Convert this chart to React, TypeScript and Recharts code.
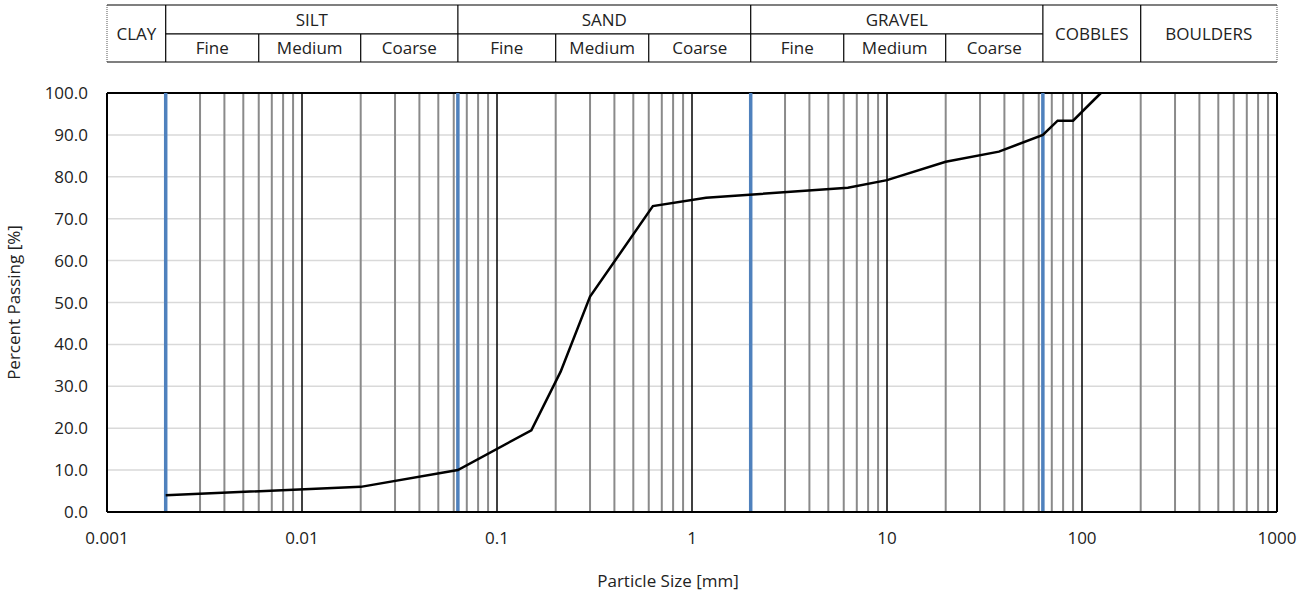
import { LineChart, Line, XAxis, YAxis, CartesianGrid, ReferenceLine, ReferenceDot } from 'recharts'

// grading curve
const sizes = [0.002, 0.02, 0.063, 0.15, 0.212, 0.3, 0.63, 1.18, 6.3, 10, 20, 37.5, 63, 75, 90, 125]
const passing = [4.0, 6.0, 10.0, 19.5, 33.5, 51.4, 73.0, 75.0, 77.4, 79.2, 83.6, 86.0, 90.0, 93.4, 93.4, 100.0]

const xTicks = [0.001, 0.01, 0.1, 1, 10, 100, 1000]
const yTicks = [0, 10, 20, 30, 40, 50, 60, 70, 80, 90, 100]
const minorSteps = [2, 3, 4, 5, 6, 7, 8, 9]

// soil classification limits [mm]
const classLimits = [0.002, 0.063, 2, 63]
const mainLimits = [0.002, 0.063, 2, 63, 200]
const subLimits = [0.006, 0.02, 0.2, 0.6, 6, 20]
const fullCells = [
  { name: 'CLAY', from: 0.001, to: 0.002 },
  { name: 'COBBLES', from: 63, to: 200 },
  { name: 'BOULDERS', from: 200, to: 1000 },
]
const groupCells = [
  { name: 'SILT', from: 0.002, to: 0.063 },
  { name: 'SAND', from: 0.063, to: 2 },
  { name: 'GRAVEL', from: 2, to: 63 },
]
const subNames = ['Fine', 'Medium', 'Coarse']
const subEdges = [
  [0.002, 0.006, 0.02, 0.063],
  [0.063, 0.2, 0.6, 2],
  [2, 6, 20, 63],
]

const data = sizes.map((s, i) => ({ size: s, passing: passing[i] }))
const minorLines = xTicks.slice(0, -1).flatMap((d) => minorSteps.map((k) => +(k * d).toPrecision(3)))

// header band sits above the plot, in y-axis units
const HEAD_TOP = 121
const HEAD_MID = 114.1
const HEAD_BOT = 107.4

const FONT = "'Open Sans', sans-serif"
const TEXT = '#222'
const gmean = (a: number, b: number) => Math.sqrt(a * b)

const cellLabel = (value: string) => ({ value, position: 'center' as const, fill: TEXT, fontSize: 17 })

export default function App() {
  return (
    <div style={{ position: 'absolute', left: 0, top: 0, width: 1307, height: 591, background: '#fff', fontFamily: FONT }}>
      <LineChart width={1307} height={591} data={data} margin={{ top: 93, right: 30, bottom: 0, left: 0 }}>
        <CartesianGrid vertical={false} stroke="#d9d9d9" strokeWidth={1.5} />
        <XAxis
          dataKey="size"
          type="number"
          scale="log"
          domain={[0.001, 1000]}
          ticks={xTicks}
          allowDataOverflow
          height={79}
          tickLine={false}
          tickSize={0}
          tickMargin={20}
          axisLine={{ stroke: '#000', strokeWidth: 2 }}
          tick={{ fill: TEXT, fontSize: 17 }}
          tickFormatter={(v: number) => String(v)}
          label={{ value: 'Particle Size [mm]', position: 'insideBottom', offset: 4, dx: -24, fill: TEXT, fontSize: 17 }}
        />
        <YAxis
          type="number"
          domain={[0, 100]}
          ticks={yTicks}
          width={107}
          tickLine={false}
          tickSize={0}
          tickMargin={19}
          axisLine={{ stroke: '#000', strokeWidth: 2 }}
          tick={{ fill: TEXT, fontSize: 17 }}
          tickFormatter={(v: number) => v.toFixed(1)}
          label={{ value: 'Percent Passing [%]', angle: -90, position: 'insideLeft', offset: 14, fill: TEXT, fontSize: 17, style: { textAnchor: 'middle' } }}
        />
        {minorLines.map((v) => (
          <ReferenceLine key={'m' + v} x={v} stroke="#8a8a8a" strokeWidth={2} />
        ))}
        {xTicks.slice(1, -1).map((v) => (
          <ReferenceLine key={'d' + v} x={v} stroke="#000" strokeWidth={1.5} />
        ))}
        <ReferenceLine x={1000} stroke="#000" strokeWidth={2} />
        <ReferenceLine y={100} stroke="#000" strokeWidth={2} />
        {classLimits.map((v) => (
          <ReferenceLine key={'c' + v} x={v} stroke="#4f81bd" strokeWidth={3.5} />
        ))}
        <Line dataKey="passing" type="linear" stroke="#000" strokeWidth={2.5} dot={false} isAnimationActive={false} />

        {/* classification header */}
        <ReferenceLine ifOverflow="visible" segment={[{ x: 0.001, y: HEAD_TOP }, { x: 1000, y: HEAD_TOP }]} stroke="#000" strokeWidth={1.2} />
        <ReferenceLine ifOverflow="visible" segment={[{ x: 0.001, y: HEAD_BOT }, { x: 1000, y: HEAD_BOT }]} stroke="#000" strokeWidth={1.2} />
        <ReferenceLine ifOverflow="visible" segment={[{ x: 0.002, y: HEAD_MID }, { x: 63, y: HEAD_MID }]} stroke="#000" strokeWidth={1.2} />
        <ReferenceLine ifOverflow="visible" segment={[{ x: 0.001, y: HEAD_BOT }, { x: 0.001, y: HEAD_TOP }]} stroke="#555" strokeWidth={1} strokeDasharray="1 1" />
        <ReferenceLine ifOverflow="visible" segment={[{ x: 1000, y: HEAD_BOT }, { x: 1000, y: HEAD_TOP }]} stroke="#555" strokeWidth={1} strokeDasharray="1 1" />
        {mainLimits.map((v) => (
          <ReferenceLine key={'hm' + v} ifOverflow="visible" segment={[{ x: v, y: HEAD_BOT }, { x: v, y: HEAD_TOP }]} stroke="#000" strokeWidth={1.2} />
        ))}
        {subLimits.map((v) => (
          <ReferenceLine key={'hs' + v} ifOverflow="visible" segment={[{ x: v, y: HEAD_BOT }, { x: v, y: HEAD_MID }]} stroke="#000" strokeWidth={1.2} />
        ))}
        {fullCells.map((c) => (
          <ReferenceDot key={c.name} ifOverflow="visible" x={gmean(c.from, c.to)} y={(HEAD_TOP + HEAD_BOT) / 2} r={0} stroke="none" label={cellLabel(c.name)} />
        ))}
        {groupCells.map((c) => (
          <ReferenceDot key={c.name} ifOverflow="visible" x={gmean(c.from, c.to)} y={(HEAD_TOP + HEAD_MID) / 2} r={0} stroke="none" label={cellLabel(c.name)} />
        ))}
        {subEdges.flatMap((edges, g) =>
          subNames.map((n, i) => (
            <ReferenceDot key={g + n} ifOverflow="visible" x={gmean(edges[i], edges[i + 1])} y={(HEAD_MID + HEAD_BOT) / 2} r={0} stroke="none" label={cellLabel(n)} />
          ))
        )}
      </LineChart>
    </div>
  )
}
